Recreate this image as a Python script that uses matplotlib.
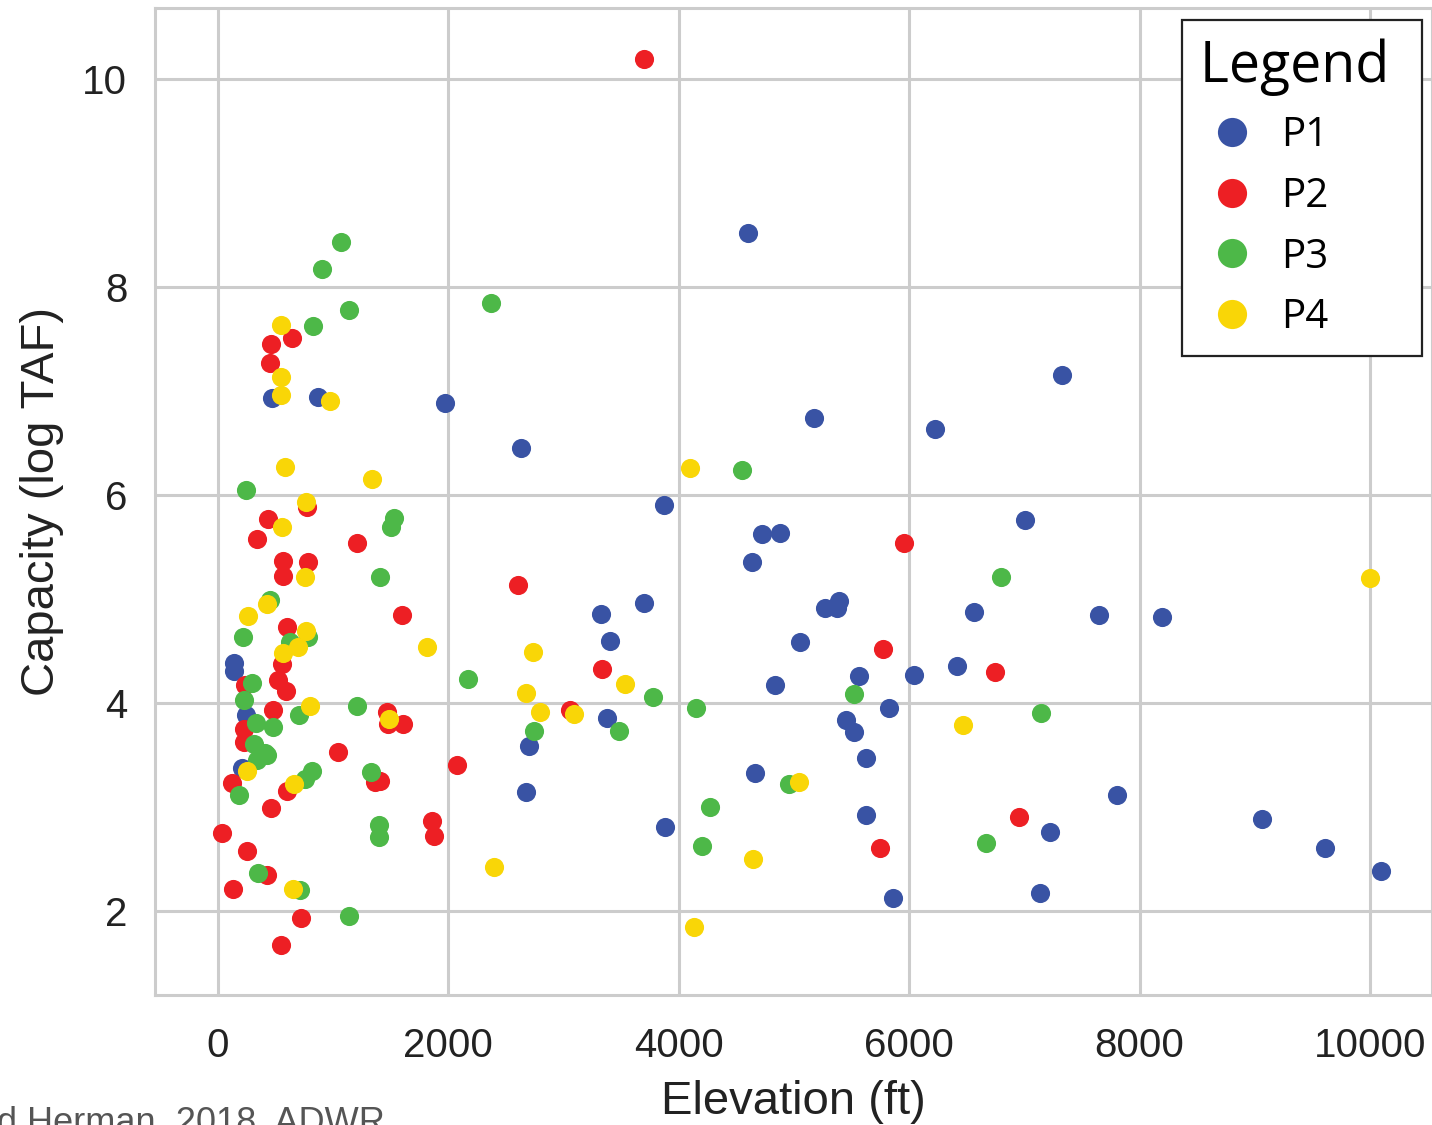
import matplotlib
matplotlib.use("Agg")
import matplotlib.pyplot as plt
from matplotlib.lines import Line2D

# ---- data (elevation ft, capacity log TAF) ----
p1_x = [4601, 7326, 469, 868, 1970, 5174, 6224, 2630, 3872, 4722, 4878, 4635, 7005,
        6562, 7648, 8194, 3325, 3698, 5391, 5269, 5373, 3403, 5052, 5564, 6042, 6415,
        4835, 5825, 3377, 5451, 5521, 2700, 5625, 4661, 2674, 7804, 5625, 3880, 9063,
        7222, 9609, 10095, 5859, 7135, 139, 139, 243, 208]
p1_y = [8.52, 7.15, 6.93, 6.94, 6.88, 6.74, 6.63, 6.45, 5.90, 5.62, 5.63, 5.35, 5.76,
        4.87, 4.84, 4.82, 4.85, 4.96, 4.98, 4.91, 4.91, 4.59, 4.58, 4.26, 4.27, 4.35,
        4.17, 3.95, 3.85, 3.83, 3.72, 3.58, 3.47, 3.32, 3.14, 3.11, 2.92, 2.81, 2.88,
        2.76, 2.60, 2.38, 2.12, 2.17, 4.38, 4.31, 3.88, 3.37]

p2_x = [3698, 642, 460, 451, 434, 338, 1207, 773, 564, 781, 564, 1597, 599, 556, 521,
        590, 234, 477, 1467, 1476, 1606, 1042, 226, 226, 122, 599, 460, 1363, 1406,
        2075, 1858, 1875, 35, 252, 425, 130, 720, 547, 2604, 5955, 5773, 3333, 6745,
        3056, 6953, 5747]
p2_y = [10.19, 7.51, 7.45, 7.27, 5.77, 5.57, 5.54, 5.88, 5.36, 5.35, 5.22, 4.84, 4.73,
        4.37, 4.22, 4.11, 4.17, 3.93, 3.91, 3.80, 3.80, 3.53, 3.75, 3.62, 3.23, 3.15,
        2.99, 3.24, 3.25, 3.40, 2.86, 2.72, 2.75, 2.57, 2.34, 2.21, 1.93, 1.67, 5.13,
        5.54, 4.52, 4.32, 4.30, 3.93, 2.90, 2.60]

p3_x = [1068, 903, 1137, 825, 243, 2370, 4549, 1528, 1502, 1406, 6797, 451, 217, 781,
        625, 295, 226, 703, 1207, 330, 477, 312, 408, 425, 338, 182, 816, 755, 1328,
        1398, 1398, 347, 712, 1137, 2170, 3776, 5521, 4149, 7144, 2743, 3481, 4271,
        4957, 4201, 6667]
p3_y = [8.43, 8.17, 7.78, 7.62, 6.05, 7.84, 6.24, 5.78, 5.69, 5.21, 5.21, 4.99, 4.63,
        4.63, 4.58, 4.19, 4.03, 3.88, 3.97, 3.81, 3.77, 3.60, 3.52, 3.50, 3.45, 3.11,
        3.34, 3.27, 3.33, 2.82, 2.71, 2.36, 2.20, 1.95, 4.23, 4.06, 4.08, 3.95, 3.90,
        3.73, 3.73, 3.00, 3.22, 2.62, 2.65]

p4_x = [547, 547, 547, 972, 582, 1337, 764, 555, 755, 425, 260, 1814, 764, 694, 564,
        799, 1484, 251, 660, 651, 4097, 10000, 2734, 3533, 2674, 2795, 3090, 6467,
        5043, 2396, 4644, 4132]
p4_y = [7.63, 7.13, 6.96, 6.90, 6.27, 6.15, 5.93, 5.69, 5.21, 4.95, 4.83, 4.54, 4.69,
        4.54, 4.48, 3.97, 3.84, 3.34, 3.22, 2.21, 6.26, 5.20, 4.49, 4.18, 4.09, 3.91,
        3.89, 3.79, 3.24, 2.42, 2.50, 1.84]

series_names = ["P1", "P2", "P3", "P4"]
colors = ["#3953A4", "#ED1F24", "#4DB848", "#F9D607"]
x_ticks = [0, 2000, 4000, 6000, 8000, 10000]
y_ticks = [2, 4, 6, 8, 10]

W, H = 1432, 1125
fig = plt.figure(figsize=(W / 100, H / 100), dpi=100)
ax = fig.add_axes([155 / W, (H - 995) / H, (W - 155) / W, (995 - 8) / H])

grey = "#cccccc"
for xs, ys, c in zip([p1_x, p2_x, p3_x, p4_x], [p1_y, p2_y, p3_y, p4_y], colors):
    ax.scatter(xs, ys, s=190, color=c, linewidths=0, zorder=3)

ax.set_xlim(-547, 10538)
ax.set_ylim(1.19, 10.68)
ax.set_xticks(x_ticks)
ax.set_yticks(y_ticks)
ax.grid(True, color=grey, linewidth=2.2, zorder=0)
ax.set_axisbelow(True)
for side in ["left", "bottom", "top", "right"]:
    ax.spines[side].set_color(grey)
    ax.spines[side].set_linewidth(2.2)
ax.tick_params(axis="x", length=0, pad=23, labelsize=29, colors="#222222")
ax.tick_params(axis="y", length=0, pad=20, labelsize=29, colors="#222222")
for lab in ax.get_xticklabels() + ax.get_yticklabels():
    lab.set_family("Liberation Sans")

ax.set_xlabel("Elevation (ft)", fontsize=34, family="Liberation Sans", color="#222222", labelpad=11)
ax.set_ylabel("Capacity (log TAF)", fontsize=34, family="Liberation Sans", color="#222222", labelpad=13)

handles = [Line2D([], [], marker="o", linestyle="none", markersize=21,
                  markerfacecolor=c, markeredgewidth=0) for c in colors]
leg = ax.legend(handles, series_names, title="Legend ", loc="upper right",
                bbox_to_anchor=(1422 / W, 1 - 20 / H), bbox_transform=fig.transFigure,
                fancybox=False, framealpha=1, edgecolor="#222222",
                prop={"family": "Open Sans", "size": 29},
                title_fontproperties={"family": "Open Sans", "size": 40},
                handlelength=1.6, handletextpad=0.4, labelspacing=0.5,
                borderpad=0.45, borderaxespad=0)
leg._legend_box.align = "left"
leg.get_frame().set_linewidth(1.6)
leg.set_zorder(5)

fig.text(-0.002, -0.007, "d Herman, 2018, ADWR", fontsize=26, family="Liberation Sans",
         color="#555555", ha="left", va="baseline")

fig.savefig("out.png", dpi=100)
